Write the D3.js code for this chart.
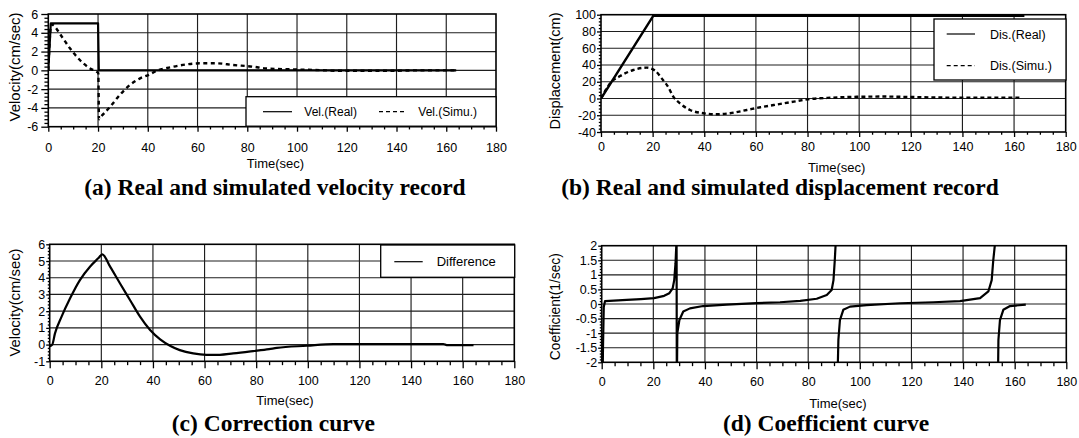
<!DOCTYPE html>
<html><head><meta charset="utf-8">
<script src="https://cdn.jsdelivr.net/npm/d3@7"></script>
<style>
body{margin:0;background:#fff;}
svg{display:block;}
text{font-family:"Liberation Sans",Arial,sans-serif;fill:#000;}
.cap{font-family:"Liberation Serif","Times New Roman",serif;font-weight:bold;}
</style></head><body>
<svg id="c" width="1079" height="438"></svg>
<script>
// ---------- data ----------
const xTicks = [0,20,40,60,80,100,120,140,160,180];

// (a) velocity
const velYTicks = [-6,-4,-2,0,2,4,6];
const velRealT = [0, 1, 20, 20.3, 164];
const velRealV = [0, 5, 5, 0, 0];
const velSimuT = [0, 1.2, 2, 5.4, 8.7, 12.7, 16.8, 19.4, 20.1, 20.4, 21, 24.8, 28.8, 32.8, 36.9, 40.2, 43.6, 49, 55.7, 61, 67.6, 74.3, 82.3, 87.6, 98.5, 110, 116, 128, 139, 150, 164];
const velSimuV = [0, 4.9, 4.8, 3.6, 2.35, 1.1, 0.2, -0.14, -0.3, -5.2, -5.0, -3.9, -2.6, -1.56, -0.85, -0.5, -0.05, 0.32, 0.64, 0.75, 0.75, 0.57, 0.39, 0.2, 0.1, 0.02, -0.05, -0.05, -0.04, 0, 0];

// (b) displacement
const disYTicks = [-40,-20,0,20,40,60,80,100];
const disRealT = [0, 20.3, 164];
const disRealV = [0, 98.8, 98.8];
const disSimuT = [0, 4.1, 7.4, 12.5, 17.7, 20.9, 23.5, 26.1, 28, 30.6, 34.5, 39.7, 44.8, 50, 56.5, 61.7, 66.9, 74.7, 79.8, 90, 99.1, 109.5, 119.8, 128.9, 141.9, 162.5];
const disSimuV = [0, 20, 26.8, 34, 36.8, 33.4, 24, 13.3, 2.2, -5.8, -13.7, -17.6, -18.9, -17.6, -13.7, -10.5, -7.8, -3.8, -1.05, 1.0, 2.0, 2.3, 1.8, 1.2, 1.0, 1.0];

// (c) correction (difference)
const difYTicks = [-1,0,1,2,3,4,5,6];
const difT = [0, 1, 2.05, 4.6, 7.9, 11.7, 15.6, 18.8, 20.4, 23.4, 27.2, 31.1, 35, 38.9, 42.8, 46.6, 50.4, 55.6, 60.7, 65.9, 71.1, 78.8, 85, 88, 99.6, 109.9, 120.2, 133.1, 152.5, 153.8, 164.2];
const difV = [-0.1, 0, 0.67, 1.67, 2.77, 3.86, 4.66, 5.16, 5.4, 4.66, 3.67, 2.67, 1.67, 0.87, 0.31, -0.07, -0.33, -0.53, -0.61, -0.61, -0.53, -0.39, -0.27, -0.2, -0.07, 0.03, 0.03, 0.03, 0.03, -0.03, -0.03];

// (d) coefficient (null = break)
const coefYTicks = [-2,-1.5,-1,-0.5,0,0.5,1,1.5,2];
const coefT = [0.3, 0.5, 0.8, 1.3, 9.7, 15.2, 20.3, 24.2, 26.2, 27.5, 28.1, 28.6, 28.9, 29.0, 29.1, 29.3, 30.1, 31.6, 34.2, 39.3, 48.4, 60, 69.1, 76.9, 83.3, 87.2, 89.1, 89.8, 90.3, 90.6, 90.8, 91.0, 91.4, 91.5, 91.7, 92.3, 93.6, 96.2, 102.6, 115.6, 128.5, 138.8, 146.6, 149.8, 151.1, 151.7, 152.3, 152.5, 153.0, 153.5, 153.6, 153.7, 154.3, 155.6, 158.2, 164.3];
const coefV = [-3, -1.5, -0.1, 0.1, 0.14, 0.17, 0.2, 0.28, 0.37, 0.54, 0.82, 1.4, 2.0, 3, -3, -1.0, -0.55, -0.26, -0.15, -0.07, -0.02, 0.03, 0.06, 0.11, 0.18, 0.31, 0.48, 0.82, 1.5, 2.0, 3, null, -3, -2, -1.23, -0.55, -0.2, -0.09, -0.04, 0.025, 0.06, 0.1, 0.2, 0.43, 0.82, 1.5, 2.0, 3, null, -3, -2, -1.23, -0.55, -0.2, -0.07, -0.02];

// ---------- drawing ----------
const svg = d3.select("#c");
const zip = (t, v) => t.map((d, i) => ({t: d, v: v[i]}));
let clipId = 0;

function panel(cfg) {
  const x = d3.scaleLinear().domain([0, 180]).range([cfg.l, cfg.r]);
  const y = d3.scaleLinear().domain(cfg.yDom).range([cfg.b, cfg.t]);
  const g = svg.append("g");

  // grid
  g.append("g").selectAll("line").data(xTicks.slice(1, -1)).join("line")
    .attr("x1", d => x(d)).attr("x2", d => x(d)).attr("y1", cfg.t).attr("y2", cfg.b)
    .attr("stroke", "#1e1e1e").attr("stroke-width", 1.15);
  g.append("g").selectAll("line").data(cfg.yTicks.slice(1, -1)).join("line")
    .attr("y1", d => y(d)).attr("y2", d => y(d)).attr("x1", cfg.l).attr("x2", cfg.r)
    .attr("stroke", "#1e1e1e").attr("stroke-width", 1.15);

  // minor ticks
  const xMinor = d3.range(0, 181, 5).filter(d => d % 20 !== 0);
  const ys = cfg.yTicks[1] - cfg.yTicks[0];
  const yMinor = [];
  for (let i = 0; i < cfg.yTicks.length - 1; i++)
    for (let k = 1; k < 5; k++) yMinor.push(cfg.yTicks[i] + ys * k / 5);

  g.append("g").attr("transform", `translate(0,${cfg.b})`)
    .call(d3.axisBottom(x).tickValues(xTicks).tickSize(cfg.xTick).tickSizeOuter(0)
      .tickPadding(cfg.xPad).tickFormat(d3.format("d")));
  g.append("g").attr("transform", `translate(0,${cfg.b})`)
    .call(d3.axisBottom(x).tickValues(xMinor).tickSize(cfg.xTick * 0.55).tickSizeOuter(0).tickFormat(""));
  g.append("g").attr("transform", `translate(${cfg.l},0)`)
    .call(d3.axisLeft(y).tickValues(cfg.yTicks).tickSize(cfg.yTick).tickSizeOuter(0)
      .tickPadding(cfg.yPad).tickFormat(d => String(d)));
  g.append("g").attr("transform", `translate(${cfg.l},0)`)
    .call(d3.axisLeft(y).tickValues(yMinor).tickSize(cfg.yTick * 0.55).tickSizeOuter(0).tickFormat(""));
  g.selectAll(".domain").remove();
  g.selectAll(".tick line").attr("stroke", "#000").attr("stroke-width", 1.3);
  g.selectAll(".tick text").attr("font-size", 12.5).attr("font-family", "Liberation Sans, Arial, sans-serif");

  // series
  const id = "clip" + (clipId++);
  svg.append("clipPath").attr("id", id).append("rect")
    .attr("x", cfg.l).attr("y", cfg.t).attr("width", cfg.r - cfg.l).attr("height", cfg.b - cfg.t);
  const sg = g.append("g").attr("clip-path", `url(#${id})`);
  cfg.series.forEach(s => {
    const line = d3.line().defined(d => d.v !== null).x(d => x(d.t)).y(d => y(d.v))
      .curve(s.curve || d3.curveLinear);
    sg.append("path").datum(zip(s.t, s.v)).attr("d", line)
      .attr("fill", "none").attr("stroke", "#000").attr("stroke-width", s.w || 2)
      .attr("stroke-dasharray", s.dash || null).attr("stroke-linejoin", "round");
  });

  // frame
  g.append("rect").attr("x", cfg.l).attr("y", cfg.t).attr("width", cfg.r - cfg.l).attr("height", cfg.b - cfg.t)
    .attr("fill", "none").attr("stroke", "#000").attr("stroke-width", 1.6);

  // legend
  if (cfg.legend) {
    const L = cfg.legend;
    g.append("rect").attr("x", L.x).attr("y", L.y).attr("width", L.w).attr("height", L.h)
      .attr("fill", "#fff").attr("stroke", "#000").attr("stroke-width", 1.3);
    L.items.forEach(it => {
      g.append("line").attr("x1", it.lx1).attr("x2", it.lx2).attr("y1", it.ly).attr("y2", it.ly)
        .attr("stroke", "#000").attr("stroke-width", 1.2).attr("stroke-dasharray", it.dash || null);
      g.append("text").attr("x", it.tx).attr("y", it.ly).attr("dy", "0.36em")
        .attr("font-size", L.fs).text(it.label);
    });
  }

  // axis titles
  g.append("text").attr("x", cfg.xtX).attr("y", cfg.xtY).attr("text-anchor", "middle")
    .attr("font-size", 13).text("Time(sec)");
  g.append("text").attr("transform", `translate(${cfg.ytX},${cfg.ytY}) rotate(-90)`)
    .attr("text-anchor", "middle").attr("font-size", 14)
    .attr("textLength", cfg.ytLen).attr("lengthAdjust", "spacingAndGlyphs").text(cfg.yTitle);
  // caption
  g.append("text").attr("class", "cap").attr("x", cfg.capX).attr("y", cfg.capY)
    .attr("text-anchor", "middle").attr("font-size", 23.5).text(cfg.caption);
}

const smooth = d3.curveMonotoneX;

panel({
  l: 48.3, r: 496, t: 14, b: 126.7, yDom: [-6, 6], yTicks: velYTicks,
  xTick: 5, xPad: 11, yTick: 7, yPad: 3,
  series: [
    {t: velSimuT, v: velSimuV, curve: smooth, dash: "4,3.5", w: 2.4},
    {t: velRealT, v: velRealV, w: 2.2}
  ],
  legend: {x: 246, y: 96.7, w: 250, h: 29.5, fs: 12, items: [
    {lx1: 263, lx2: 292, ly: 111.7, tx: 304.3, label: "Vel.(Real)"},
    {lx1: 379, lx2: 407, ly: 111.7, tx: 418.3, label: "Vel.(Simu.)", dash: "4,3"}
  ]},
  xtX: 275.5, xtY: 168, ytX: 20, ytY: 67, ytLen: 109, yTitle: "Velocity(cm/sec)",
  capX: 275, capY: 195, caption: "(a) Real and simulated velocity record"
});

panel({
  l: 601, r: 1065.7, t: 14.7, b: 132, yDom: [-40, 100], yTicks: disYTicks,
  xTick: 5, xPad: 5, yTick: 4, yPad: 1,
  series: [
    {t: disSimuT, v: disSimuV, curve: smooth, dash: "4,3", w: 2.4},
    {t: disRealT, v: disRealV, w: 2.4}
  ],
  legend: {x: 934, y: 19, w: 132, h: 61, fs: 12.5, items: [
    {lx1: 946.7, lx2: 975, ly: 34, tx: 990, label: "Dis.(Real)"},
    {lx1: 946.7, lx2: 975, ly: 65.7, tx: 990, label: "Dis.(Simu.)", dash: "4,3"}
  ]},
  xtX: 836.7, xtY: 172, ytX: 560, ytY: 71, ytLen: 117, yTitle: "Displacement(cm)",
  capX: 780, capY: 195, caption: "(b) Real and simulated displacement record"
});

panel({
  l: 49.7, r: 514.3, t: 244.3, b: 361.3, yDom: [-1, 6], yTicks: difYTicks,
  xTick: 7, xPad: 8, yTick: 3.5, yPad: 1,
  series: [
    {t: difT, v: difV, curve: smooth, w: 2.2}
  ],
  legend: {x: 380.7, y: 245, w: 134, h: 32.3, fs: 13, items: [
    {lx1: 394.3, lx2: 422.7, ly: 261.7, tx: 436.7, label: "Difference"}
  ]},
  xtX: 285, xtY: 405, ytX: 20, ytY: 302.5, ytLen: 108, yTitle: "Velocity(cm/sec)",
  capX: 273.3, capY: 431, caption: "(c) Correction curve"
});

panel({
  l: 601.7, r: 1066.3, t: 245.7, b: 362.3, yDom: [-2, 2], yTicks: coefYTicks,
  xTick: 7, xPad: 8, yTick: 3.5, yPad: 1,
  series: [
    {t: coefT, v: coefV, curve: d3.curveLinear, w: 2.2}
  ],
  xtX: 838, xtY: 408, ytX: 560, ytY: 306.7, ytLen: 107, yTitle: "Coefficient(1/sec)",
  capX: 826, capY: 431, caption: "(d) Coefficient curve"
});
</script>
</body></html>
